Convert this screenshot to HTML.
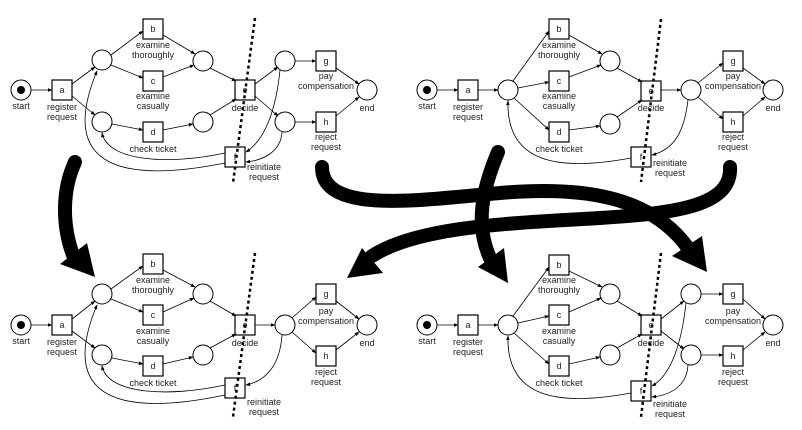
<!DOCTYPE html>
<html><head><meta charset="utf-8"><style>
html,body{margin:0;padding:0;background:#fff;width:802px;height:430px;overflow:hidden}
svg text{font-family:"Liberation Sans",sans-serif;font-size:9px;fill:#222;text-anchor:middle}
</style></head><body>
<svg width="802" height="430" viewBox="0 0 802 430" xmlns="http://www.w3.org/2000/svg">
<defs>
<marker id="ar" viewBox="0 0 8 8" refX="7" refY="4" markerWidth="6" markerHeight="6" orient="auto"><path d="M0,1 L8,4 L0,7 z" fill="#000"/></marker>
</defs>
<style>
.p{fill:#fff;stroke:#000;stroke-width:1}
.t{fill:#fff;stroke:#000;stroke-width:1.2}
.e{fill:none;stroke:#000;stroke-width:0.8;marker-end:url(#ar)}
.d{stroke:#000;stroke-width:2.5;stroke-dasharray:3,3}
.big{fill:none;stroke:#000;stroke-width:14;stroke-linecap:round}
</style>

<!-- TL -->
<g>
<circle class="p" cx="21" cy="90" r="10"/><circle cx="21" cy="90" r="4"/>
<text x="21" y="109">start</text>
<line class="e" x1="31" y1="90" x2="52" y2="90"/>
<rect class="t" x="52" y="80" width="20" height="20"/><text x="62" y="93">a</text>
<text x="62" y="110">register</text><text x="62" y="120">request</text>
<circle class="p" cx="102" cy="60" r="10"/><circle class="p" cx="102" cy="122" r="10"/>
<line class="e" x1="72" y1="84" x2="95" y2="67"/><line class="e" x1="72" y1="96" x2="95" y2="115"/>
<rect class="t" x="143" y="19" width="20" height="20"/><text x="153" y="32">b</text>
<text x="153" y="48">examine</text><text x="153" y="58">thoroughly</text>
<rect class="t" x="143" y="71" width="20" height="20"/><text x="153" y="84">c</text>
<text x="153" y="99">examine</text><text x="153" y="109">casually</text>
<rect class="t" x="143" y="122" width="20" height="20"/><text x="153" y="135">d</text>
<text x="153" y="152">check ticket</text>
<line class="e" x1="111" y1="55" x2="143" y2="31"/><line class="e" x1="111" y1="65" x2="143" y2="78"/>
<line class="e" x1="112" y1="124" x2="143" y2="130"/>
<circle class="p" cx="203" cy="61" r="10"/><circle class="p" cx="203" cy="122" r="10"/>
<line class="e" x1="163" y1="35" x2="195" y2="54"/><line class="e" x1="163" y1="77" x2="194" y2="65"/>
<line class="e" x1="163" y1="130" x2="193" y2="124"/>
<rect class="t" x="235" y="80" width="20" height="20"/><text x="245" y="93">e</text>
<text x="245" y="111">decide</text>
<line class="e" x1="210" y1="68" x2="236" y2="81"/><line class="e" x1="210" y1="115" x2="236" y2="99"/>
<circle class="p" cx="285" cy="61" r="10"/><circle class="p" cx="285" cy="122" r="10"/>
<line class="e" x1="255" y1="84" x2="278" y2="67"/><line class="e" x1="255" y1="96" x2="278" y2="116"/>
<rect class="t" x="316" y="51" width="20" height="20"/><text x="326" y="64">g</text>
<text x="326" y="79">pay</text><text x="326" y="89">compensation</text>
<rect class="t" x="316" y="112" width="20" height="20"/><text x="326" y="125">h</text>
<text x="326" y="140">reject</text><text x="326" y="150">request</text>
<line class="e" x1="295" y1="61" x2="316" y2="61"/><line class="e" x1="295" y1="122" x2="316" y2="122"/>
<circle class="p" cx="367" cy="90" r="10"/><text x="367" y="111">end</text>
<line class="e" x1="336" y1="68" x2="359" y2="84"/><line class="e" x1="336" y1="116" x2="359" y2="97"/>
<rect class="t" x="225" y="147" width="20" height="20"/><text x="235" y="160">f</text>
<text x="264" y="170">reinitiate</text><text x="264" y="180">request</text>
<path class="e" d="M225,153 C170,165 108,162 102,133"/>
<path class="e" d="M225,163 C130,182 55,172 97,71"/>
<path class="e" d="M280,70 C276,110 265,140 246,152"/>
<path class="e" d="M282,132 C281,150 266,160 246,162"/>
<line class="d" x1="255" y1="18" x2="233" y2="183"/>
</g>

<!-- TR -->
<g transform="translate(406,0)">
<circle class="p" cx="21" cy="90" r="10"/><circle cx="21" cy="90" r="4"/>
<text x="21" y="109">start</text>
<line class="e" x1="31" y1="90" x2="52" y2="90"/>
<rect class="t" x="52" y="80" width="20" height="20"/><text x="62" y="93">a</text>
<text x="62" y="110">register</text><text x="62" y="120">request</text>
<circle class="p" cx="102" cy="90" r="10"/>
<line class="e" x1="72" y1="90" x2="92" y2="90"/>
<rect class="t" x="143" y="19" width="20" height="20"/><text x="153" y="32">b</text>
<text x="153" y="48">examine</text><text x="153" y="58">thoroughly</text>
<rect class="t" x="143" y="71" width="20" height="20"/><text x="153" y="84">c</text>
<text x="153" y="99">examine</text><text x="153" y="109">casually</text>
<rect class="t" x="143" y="122" width="20" height="20"/><text x="153" y="135">d</text>
<text x="153" y="152">check ticket</text>
<line class="e" x1="107" y1="81" x2="143" y2="31"/><line class="e" x1="112" y1="88" x2="143" y2="82"/>
<line class="e" x1="108" y1="98" x2="143" y2="130"/>
<circle class="p" cx="204" cy="61" r="10"/><circle class="p" cx="204" cy="124" r="10"/>
<line class="e" x1="163" y1="35" x2="196" y2="54"/><line class="e" x1="163" y1="77" x2="195" y2="65"/>
<line class="e" x1="163" y1="130" x2="194" y2="126"/>
<rect class="t" x="235" y="81" width="20" height="20"/><text x="245" y="94">e</text>
<text x="245" y="111">decide</text>
<line class="e" x1="211" y1="68" x2="236" y2="82"/><line class="e" x1="211" y1="117" x2="236" y2="100"/>
<circle class="p" cx="285" cy="90" r="10"/>
<line class="e" x1="255" y1="90" x2="275" y2="90"/>
<rect class="t" x="317" y="51" width="20" height="20"/><text x="327" y="64">g</text>
<text x="327" y="79">pay</text><text x="327" y="89">compensation</text>
<rect class="t" x="317" y="112" width="20" height="20"/><text x="327" y="125">h</text>
<text x="327" y="140">reject</text><text x="327" y="150">request</text>
<line class="e" x1="292" y1="83" x2="317" y2="63"/><line class="e" x1="292" y1="97" x2="317" y2="119"/>
<circle class="p" cx="367" cy="90" r="10"/><text x="367" y="111">end</text>
<line class="e" x1="337" y1="68" x2="359" y2="84"/><line class="e" x1="337" y1="116" x2="359" y2="97"/>
<rect class="t" x="225" y="147" width="20" height="20"/><text x="235" y="160">f</text>
<text x="264" y="166">reinitiate</text><text x="264" y="176">request</text>
<path class="e" d="M282,100 C278,135 266,150 246,155"/>
<path class="e" d="M225,158 C150,172 100,162 102,101"/>
<line class="d" x1="255" y1="19" x2="235" y2="182"/>
</g>

<!-- BL -->
<g transform="translate(0,235)">
<circle class="p" cx="21" cy="90" r="10"/><circle cx="21" cy="90" r="4"/>
<text x="21" y="109">start</text>
<line class="e" x1="31" y1="90" x2="52" y2="90"/>
<rect class="t" x="52" y="80" width="20" height="20"/><text x="62" y="93">a</text>
<text x="62" y="110">register</text><text x="62" y="120">request</text>
<circle class="p" cx="102" cy="59" r="10"/><circle class="p" cx="102" cy="120" r="10"/>
<line class="e" x1="72" y1="84" x2="95" y2="66"/><line class="e" x1="72" y1="96" x2="95" y2="113"/>
<rect class="t" x="143" y="19" width="20" height="20"/><text x="153" y="32">b</text>
<text x="153" y="48">examine</text><text x="153" y="58">thoroughly</text>
<rect class="t" x="143" y="70" width="20" height="20"/><text x="153" y="83">c</text>
<text x="153" y="99">examine</text><text x="153" y="109">casually</text>
<rect class="t" x="143" y="121" width="20" height="20"/><text x="153" y="134">d</text>
<text x="153" y="151">check ticket</text>
<line class="e" x1="111" y1="54" x2="143" y2="31"/><line class="e" x1="111" y1="64" x2="143" y2="77"/>
<line class="e" x1="112" y1="123" x2="143" y2="129"/>
<circle class="p" cx="203" cy="59" r="10"/><circle class="p" cx="203" cy="120" r="10"/>
<line class="e" x1="163" y1="35" x2="195" y2="52"/><line class="e" x1="163" y1="77" x2="194" y2="63"/>
<line class="e" x1="163" y1="129" x2="193" y2="122"/>
<rect class="t" x="235" y="80" width="20" height="20"/><text x="245" y="93">e</text>
<text x="245" y="111">decide</text>
<line class="e" x1="210" y1="66" x2="236" y2="81"/><line class="e" x1="210" y1="113" x2="236" y2="99"/>
<circle class="p" cx="285" cy="90" r="10"/>
<line class="e" x1="255" y1="90" x2="275" y2="90"/>
<rect class="t" x="316" y="49" width="20" height="20"/><text x="326" y="62">g</text>
<text x="326" y="79">pay</text><text x="326" y="89">compensation</text>
<rect class="t" x="316" y="111" width="20" height="20"/><text x="326" y="124">h</text>
<text x="326" y="140">reject</text><text x="326" y="150">request</text>
<line class="e" x1="292" y1="83" x2="316" y2="62"/><line class="e" x1="292" y1="97" x2="316" y2="118"/>
<circle class="p" cx="367" cy="90" r="10"/><text x="367" y="111">end</text>
<line class="e" x1="336" y1="66" x2="359" y2="84"/><line class="e" x1="336" y1="115" x2="359" y2="97"/>
<rect class="t" x="225" y="143" width="20" height="20"/><text x="235" y="156">f</text>
<text x="264" y="170">reinitiate</text><text x="264" y="180">request</text>
<path class="e" d="M225,150 C170,162 108,160 102,131"/>
<path class="e" d="M225,160 C130,180 55,170 97,70"/>
<path class="e" d="M282,100 C280,130 266,146 246,150"/>
<line class="d" x1="255" y1="18" x2="233" y2="182"/>
</g>

<!-- BR -->
<g transform="translate(406,235)">
<circle class="p" cx="21" cy="90" r="10"/><circle cx="21" cy="90" r="4"/>
<text x="21" y="109">start</text>
<line class="e" x1="31" y1="90" x2="52" y2="90"/>
<rect class="t" x="52" y="80" width="20" height="20"/><text x="62" y="93">a</text>
<text x="62" y="110">register</text><text x="62" y="120">request</text>
<circle class="p" cx="102" cy="90" r="10"/>
<line class="e" x1="72" y1="90" x2="92" y2="90"/>
<rect class="t" x="143" y="20" width="20" height="20"/><text x="153" y="33">b</text>
<text x="153" y="48">examine</text><text x="153" y="58">thoroughly</text>
<rect class="t" x="143" y="70" width="20" height="20"/><text x="153" y="83">c</text>
<text x="153" y="99">examine</text><text x="153" y="109">casually</text>
<rect class="t" x="143" y="121" width="20" height="20"/><text x="153" y="134">d</text>
<text x="153" y="151">check ticket</text>
<line class="e" x1="107" y1="81" x2="143" y2="32"/><line class="e" x1="112" y1="88" x2="143" y2="81"/>
<line class="e" x1="108" y1="98" x2="143" y2="129"/>
<circle class="p" cx="204" cy="59" r="10"/><circle class="p" cx="204" cy="120" r="10"/>
<line class="e" x1="163" y1="36" x2="196" y2="52"/><line class="e" x1="163" y1="77" x2="195" y2="63"/>
<line class="e" x1="163" y1="129" x2="194" y2="122"/>
<rect class="t" x="235" y="80" width="20" height="20"/><text x="245" y="93">e</text>
<text x="245" y="111">decide</text>
<line class="e" x1="211" y1="66" x2="236" y2="81"/><line class="e" x1="211" y1="113" x2="236" y2="99"/>
<circle class="p" cx="285" cy="59" r="10"/><circle class="p" cx="285" cy="120" r="10"/>
<line class="e" x1="255" y1="84" x2="278" y2="66"/><line class="e" x1="255" y1="96" x2="278" y2="114"/>
<rect class="t" x="317" y="49" width="20" height="20"/><text x="327" y="62">g</text>
<text x="327" y="79">pay</text><text x="327" y="89">compensation</text>
<rect class="t" x="317" y="111" width="20" height="20"/><text x="327" y="124">h</text>
<text x="327" y="140">reject</text><text x="327" y="150">request</text>
<line class="e" x1="295" y1="59" x2="317" y2="59"/><line class="e" x1="295" y1="120" x2="317" y2="120"/>
<circle class="p" cx="367" cy="90" r="10"/><text x="367" y="111">end</text>
<line class="e" x1="337" y1="64" x2="359" y2="84"/><line class="e" x1="337" y1="115" x2="359" y2="97"/>
<rect class="t" x="225" y="146" width="20" height="20"/><text x="235" y="159">f</text>
<text x="264" y="172">reinitiate</text><text x="264" y="182">request</text>
<path class="e" d="M280,68 C276,105 266,140 246,151"/>
<path class="e" d="M282,130 C281,150 266,160 246,162"/>
<path class="e" d="M225,158 C150,172 100,162 102,101"/>
<line class="d" x1="255" y1="18" x2="235" y2="182"/>
</g>

<!-- big arrows -->
<path class="big" d="M75,162 C62,190 62,225 73,255"/>
<polygon points="60,264 87,243 95,277"/>
<path class="big" d="M322,167 C322,215 420,200 500,193 S650,195 688,248"/>
<polygon points="672,256 702,236 707,272"/>
<path class="big" d="M730,167 C732,205 680,213 600,218 S420,225 372,256"/>
<polygon points="362,248 383,273 347,278"/>
<path class="big" d="M498,152 C482,190 475,225 490,258"/>
<polygon points="478,267 504,248 508,283"/>
</svg>
</body></html>
